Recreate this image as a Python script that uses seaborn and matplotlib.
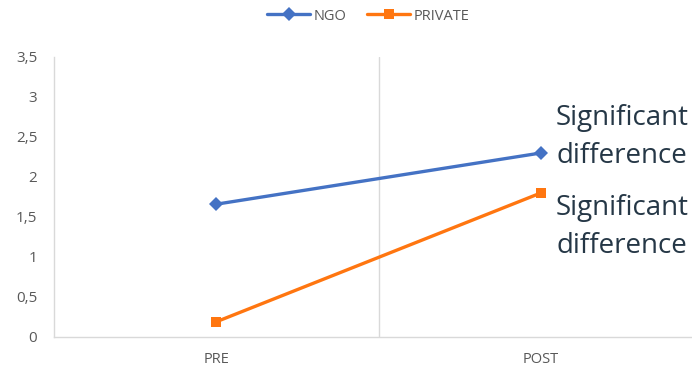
import pandas as pd
import matplotlib
matplotlib.use("Agg")
import matplotlib.pyplot as plt
import seaborn as sns

# data
phases = ["PRE", "POST"]
ngo = [1.66, 2.30]
private = [0.19, 1.80]
yticks = [0, 0.5, 1, 1.5, 2, 2.5, 3, 3.5]
note = "Significant\ndifference"

df = pd.DataFrame({
    "phase": phases * 2,
    "value": ngo + private,
    "group": ["NGO"] * len(phases) + ["PRIVATE"] * len(phases),
})

sns.set_theme(style="white")
plt.rcParams["font.family"] = ["Open Sans", "DejaVu Sans"]

fig = plt.figure(figsize=(6.92, 3.68), dpi=100)
# the original axes run past the right edge of the image
ax = fig.add_axes([54 / 692, 1 - 337 / 368, 649 / 692, 280 / 368])

palette = {"NGO": "#4472C4", "PRIVATE": "#FF7610"}
sns.lineplot(data=df, x="phase", y="value", hue="group", style="group",
             markers={"NGO": "D", "PRIVATE": "s"}, dashes=False,
             palette=palette, linewidth=2.4, markersize=7.5,
             markeredgewidth=0, ax=ax, sort=False)

ax.set_xlim(-0.5, 1.5)
ax.set_ylim(0, 3.5)
ax.set_yticks(yticks)
ax.set_yticklabels([f"{t:g}".replace(".", ",") for t in yticks])
ax.axvline(0.5, color="#d9d9d9", linewidth=1, zorder=0)
ax.set_xlabel("")
ax.set_ylabel("")

for side in ["top", "right"]:
    ax.spines[side].set_visible(False)
for side in ["left", "bottom"]:
    ax.spines[side].set_color("#d9d9d9")
    ax.spines[side].set_linewidth(1)

ax.tick_params(axis="y", length=0, pad=12, labelsize=11, labelcolor="#595959")
ax.tick_params(axis="x", length=0, pad=11, labelsize=10.5, labelcolor="#595959")

handles, labels = ax.get_legend_handles_labels()
ax.legend(handles, labels, loc="center", bbox_to_anchor=(368 / 692, 1 - 16 / 368),
          bbox_transform=fig.transFigure, ncol=2, frameon=False,
          fontsize=10.5, handlelength=3.0, handletextpad=0.2, columnspacing=1.4,
          labelcolor="#595959")

fig.text(556 / 692, 1 - 137 / 368, note, fontsize=20, color="#253746",
         va="center", ha="left", linespacing=1.5)
fig.text(556 / 692, 1 - 227 / 368, note, fontsize=20, color="#253746",
         va="center", ha="left", linespacing=1.5)

fig.savefig("out.png", dpi=100)
